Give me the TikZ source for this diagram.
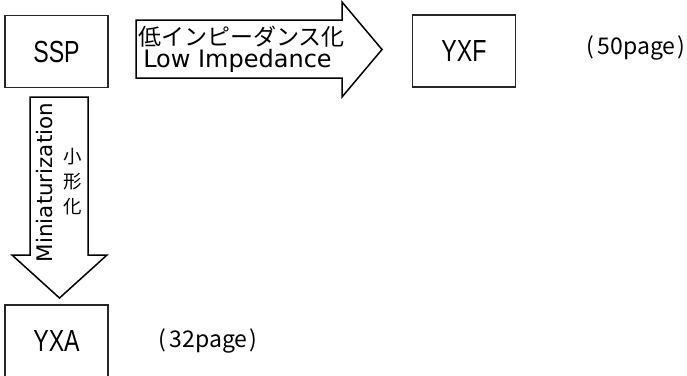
\documentclass[tikz,border=0pt]{standalone}
\usepackage{fontspec}
\usepackage{tikz}
\newfontfamily\boxfont[FakeStretch=0.76]{Liberation Sans}
\newfontfamily\latinfont{DejaVu Sans}
\newfontfamily\jpfont{Noto Sans CJK JP}

\begin{document}
\begin{tikzpicture}[x=1pt,y=-1pt,
    unitbox/.style={draw=black!85,line width=1.1pt,minimum width=103pt,minimum height=72pt,inner sep=0pt,font=\boxfont\fontsize{30.5}{32}\selectfont},
    fatarrow/.style={draw=black,line width=1.5pt,line join=miter},
    pagenote/.style={inner sep=0pt,font=\jpfont\fontsize{23}{26}\selectfont}]
			\clip (0,0) rectangle (687,375);
			% series boxes
			\node[unitbox] (ssp) at (56.5,51.5) {SSP};
			\node[unitbox] (yxf) at (464,51) {YXF};
			\node[unitbox] (yxa) at (56.5,341) {YXA};
			% fat arrows
			\draw[fatarrow] (136,20) -- (342,20) -- (342,2) -- (382,49.5) -- (342,97) -- (342,78) -- (136,78) -- cycle;
			\draw[fatarrow] (30,97) -- (88,97) -- (88,255) -- (107,255) -- (59.5,298) -- (12,255) -- (30,255) -- cycle;
			% arrow labels
			\node[font=\jpfont\fontsize{23}{26}\selectfont, anchor=base] (lowjp) at (241.5,45) {低インピーダンス化};
			\node[font=\latinfont\fontsize{24}{26}\selectfont, anchor=base] (lowen) at (237.5,67) {Low Impedance};
			\node[rotate=90, anchor=base, font=\latinfont\fontsize{21.4}{24}\selectfont] (mini) at (52,182.5) {Miniaturization};
			\node[align=center, font=\jpfont\fontsize{18.5}{25}\selectfont] (kogata) at (73,182) {小\\形\\化};
			% page notes
			\node[pagenote] (p50) at (636,48) {(\hspace{3pt}50page\hspace{2pt})};
			\node[pagenote] (p32) at (208,341) {(\hspace{3pt}32page\hspace{2pt})};
		\end{tikzpicture}
\end{document}
